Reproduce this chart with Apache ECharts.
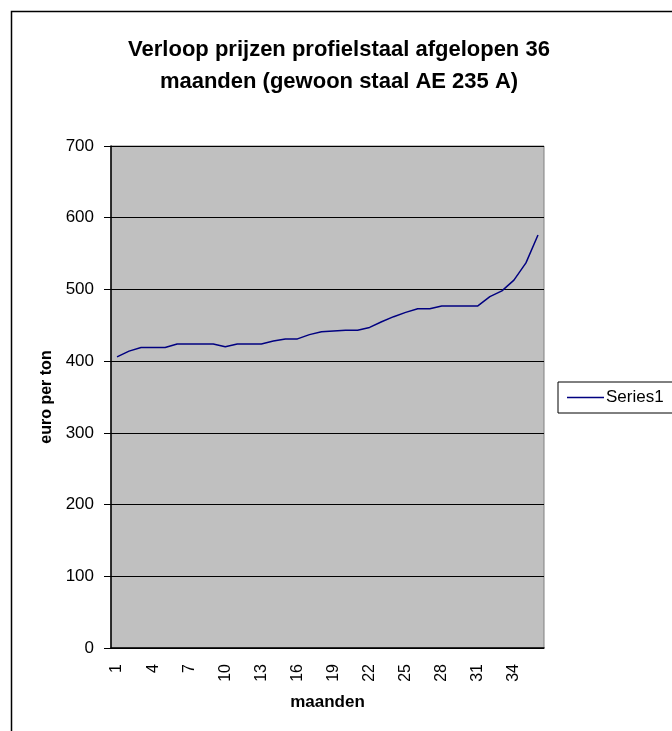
<!DOCTYPE html>
<html><head><meta charset="utf-8">
<script src="https://cdn.jsdelivr.net/npm/echarts@6/dist/echarts.min.js"></script>
<style>html,body{margin:0;padding:0;background:#fff}#c{width:672px;height:731px}</style>
</head><body><div id="c"></div>
<script>
const categories = Array.from({length:36},(_, i)=>String(i+1));
const seriesName = 'Series1';
const prices = [406,414,419,419,419,424,424,424,424,420,424,424,424,428,431,431,437,441,442,443,443,447,455,462,468,473,473,477,477,477,477,490,498,513,537,576];
const yTicks = [0,100,200,300,400,500,600,700];

const chart = echarts.init(document.getElementById('c'));
chart.setOption({
  animation:false,
  backgroundColor:'#fff',
  graphic:[{type:'rect',shape:{x:11.5,y:11.5,width:700,height:760},style:{fill:'none',stroke:'#000',lineWidth:1.5},silent:true}],
  title:{
    text:'Verloop prijzen profielstaal afgelopen 36\nmaanden (gewoon staal AE 235 A)',
    left:334, top:29, textAlign:'center',
    textStyle:{fontFamily:'Liberation Sans, Arial',fontSize:22,fontWeight:'bold',color:'#000',lineHeight:32}
  },
  legend:{
    data:[seriesName], left:558, top:382, orient:'vertical',
    borderColor:'#000', borderWidth:1, padding:[7,20,7,9],
    icon:'rect', itemWidth:37, itemHeight:1.5, itemGap:4,
    textStyle:{fontFamily:'Liberation Sans, Arial',fontSize:17,color:'#000',padding:[0,0,0,-3]}
  },
  grid:{left:111,top:146,width:433,height:502,show:true,backgroundColor:'#c0c0c0',borderColor:'#808080',borderWidth:1},
  xAxis:{
    type:'category', data:categories, boundaryGap:true,
    name:'maanden', nameLocation:'middle', nameGap:46,
    nameTextStyle:{fontFamily:'Liberation Sans, Arial',fontSize:17,fontWeight:'bold',color:'#000'},
    axisLine:{lineStyle:{color:'#000',width:1.5}},
    axisTick:{interval:0,length:6,lineStyle:{color:'#000'}},
    axisLabel:{interval:2,rotate:90,fontFamily:'Liberation Sans, Arial',fontSize:16,color:'#000',margin:16}
  },
  yAxis:{
    type:'value', min:0, max:700, interval:100,
    name:'euro per ton', nameLocation:'middle', nameGap:56, nameRotate:90,
    nameTextStyle:{fontFamily:'Liberation Sans, Arial',fontSize:16,fontWeight:'bold',color:'#000'},
    axisLine:{show:true,lineStyle:{color:'#000',width:1.5}},
    axisTick:{show:true,length:7,lineStyle:{color:'#000'}},
    axisLabel:{fontFamily:'Liberation Sans, Arial',fontSize:17,color:'#000',margin:17,
      formatter:v=>yTicks.includes(v)?String(v):''},
    splitLine:{lineStyle:{color:'#000',width:1}}
  },
  series:[{name:seriesName,type:'line',data:prices,symbol:'none',showSymbol:false,
    lineStyle:{color:'#000080',width:1.5},itemStyle:{color:'#000080'}}]
});
</script></body></html>
